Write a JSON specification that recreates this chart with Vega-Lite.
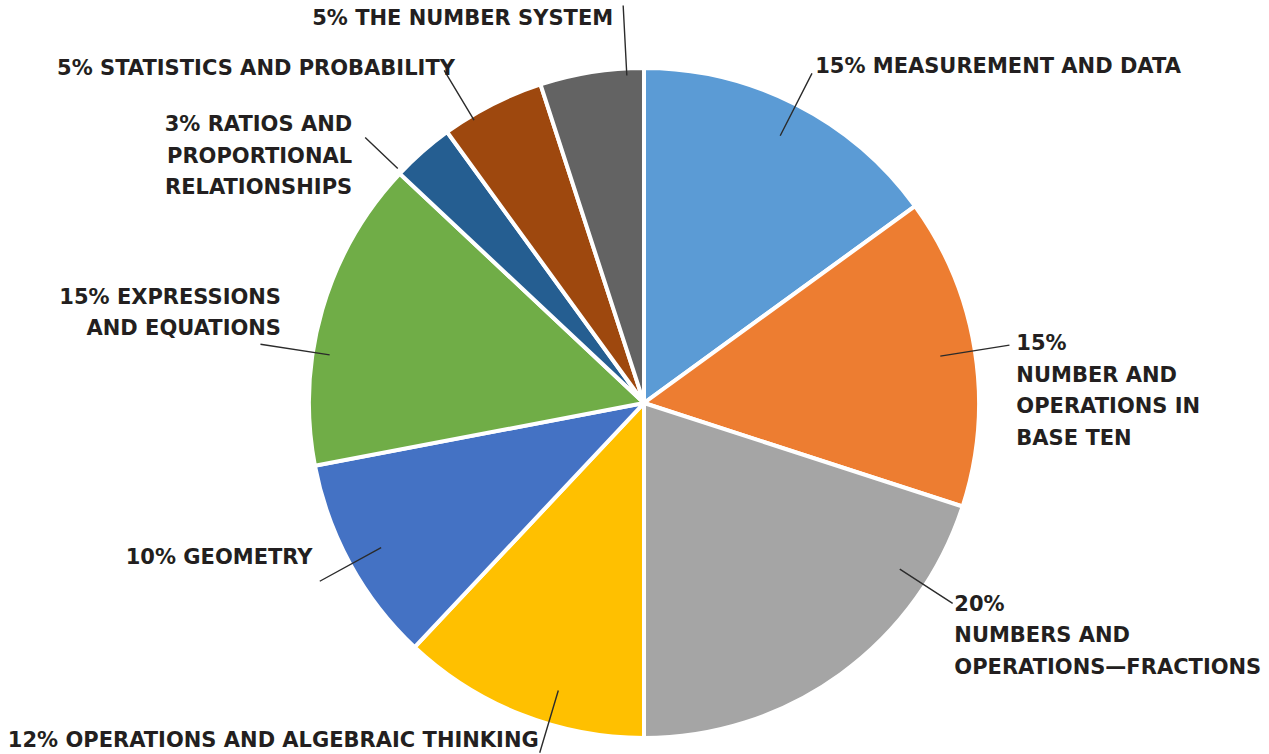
{
  "$schema": "https://vega.github.io/schema/vega-lite/v6.json",
  "width": 670,
  "height": 670,
  "autosize": {"type": "none"},
  "padding": {"left": 309, "top": 68, "right": 290, "bottom": 16},
  "background": "white",
  "config": {"view": {"stroke": null}, "text": {"font": "DejaVu Sans", "fontWeight": "bold", "fontSize": 21, "fill": "#231f20", "lineHeight": 31.5, "baseline": "middle", "lineBreak": "\n"}},
  "resolve": {"scale": {"theta": "independent"}},
  "data": {
    "values": [
      {"k": 1, "name": "Measurement and Data", "value": 15, "label": "15% MEASUREMENT AND DATA"},
      {"k": 2, "name": "Number and Operations in Base Ten", "value": 15, "label": "15%\nNUMBER AND\nOPERATIONS IN\nBASE TEN"},
      {"k": 3, "name": "Numbers and Operations—Fractions", "value": 20, "label": "20%\nNUMBERS AND\nOPERATIONS—FRACTIONS"},
      {"k": 4, "name": "Operations and Algebraic Thinking", "value": 12, "label": "12% OPERATIONS AND ALGEBRAIC THINKING"},
      {"k": 5, "name": "Geometry", "value": 10, "label": "10% GEOMETRY"},
      {"k": 6, "name": "Expressions and Equations", "value": 15, "label": "15% EXPRESSIONS\nAND EQUATIONS"},
      {"k": 7, "name": "Ratios and Proportional Relationships", "value": 3, "label": "3% RATIOS AND\nPROPORTIONAL\nRELATIONSHIPS"},
      {"k": 8, "name": "Statistics and Probability", "value": 5, "label": "5%  STATISTICS AND PROBABILITY"},
      {"k": 9, "name": "The Number System", "value": 5, "label": "5% THE NUMBER SYSTEM"}
    ]
  },
  "transform": [
    {"window": [{"op": "sum", "field": "value", "as": "cum"}], "sort": [{"field": "k"}], "frame": [null, 0]},
    {"calculate": "datum.cum - datum.value / 2", "as": "mid"}
  ],
  "layer": [
    {
      "mark": {"type": "arc", "stroke": "white", "strokeWidth": 4, "outerRadius": 335},
      "encoding": {
        "theta": {"field": "value", "type": "quantitative", "stack": true, "scale": {"domain": [0, 100], "range": [0, 6.283185]}},
        "order": {"field": "k", "type": "quantitative"},
        "color": {
          "field": "name", "type": "nominal", "legend": null,
          "scale": {
            "domain": ["Measurement and Data", "Number and Operations in Base Ten", "Numbers and Operations—Fractions", "Operations and Algebraic Thinking", "Geometry", "Expressions and Equations", "Ratios and Proportional Relationships", "Statistics and Probability", "The Number System"],
            "range": ["#5B9BD5", "#ED7D31", "#A5A5A5", "#FFC000", "#4472C4", "#70AD47", "#255E91", "#9E480E", "#636363"]
          }
        }
      }
    },
    {
      "transform": [{"filter": "datum.k == 1 || datum.k == 2 || datum.k == 5"}],
      "mark": {"type": "arc", "radius": 370, "radius2": 300, "stroke": "#2b2b2b", "strokeWidth": 1.4, "fill": null},
      "encoding": {
        "theta": {"field": "mid", "type": "quantitative", "stack": false, "scale": {"domain": [0, 100], "range": [0, 6.283185]}},
        "theta2": {"field": "mid"}
      }
    },
    {
      "transform": [{"filter": "datum.k == 4"}],
      "mark": {"type": "arc", "radius": 365, "radius2": 300, "stroke": "#2b2b2b", "strokeWidth": 1.4, "fill": null},
      "encoding": {
        "theta": {"field": "mid", "type": "quantitative", "stack": false, "scale": {"domain": [0, 100], "range": [-0.0873, 6.1959]}},
        "theta2": {"field": "mid"}
      }
    },
    {
      "transform": [{"filter": "datum.k == 3"}],
      "mark": {"type": "arc", "radius": 368, "radius2": 305, "stroke": "#2b2b2b", "strokeWidth": 1.4, "fill": null},
      "encoding": {
        "theta": {"field": "mid", "type": "quantitative", "stack": false, "scale": {"domain": [0, 100], "range": [-0.3665, 5.9167]}},
        "theta2": {"field": "mid"}
      }
    },
    {
      "transform": [{"filter": "datum.k == 6"}],
      "mark": {"type": "arc", "radius": 388, "radius2": 318, "stroke": "#2b2b2b", "strokeWidth": 1.4, "fill": null},
      "encoding": {
        "theta": {"field": "mid", "type": "quantitative", "stack": false, "scale": {"domain": [0, 100], "range": [-0.1309, 6.1523]}},
        "theta2": {"field": "mid"}
      }
    },
    {
      "transform": [{"filter": "datum.k == 7"}],
      "mark": {"type": "arc", "radius": 385, "radius2": 340, "stroke": "#2b2b2b", "strokeWidth": 1.4, "fill": null},
      "encoding": {
        "theta": {"field": "mid", "type": "quantitative", "stack": false, "scale": {"domain": [0, 100], "range": [-0.0873, 6.1959]}},
        "theta2": {"field": "mid"}
      }
    },
    {
      "transform": [{"filter": "datum.k == 8"}],
      "mark": {"type": "arc", "radius": 388, "radius2": 330, "stroke": "#2b2b2b", "strokeWidth": 1.4, "fill": null},
      "encoding": {
        "theta": {"field": "mid", "type": "quantitative", "stack": false, "scale": {"domain": [0, 100], "range": [-0.0698, 6.2134]}},
        "theta2": {"field": "mid"}
      }
    },
    {
      "transform": [{"filter": "datum.k == 9"}],
      "mark": {"type": "arc", "radius": 398, "radius2": 328, "stroke": "#2b2b2b", "strokeWidth": 1.4, "fill": null},
      "encoding": {
        "theta": {"field": "mid", "type": "quantitative", "stack": false, "scale": {"domain": [0, 100], "range": [0.1047, 6.3879]}},
        "theta2": {"field": "mid"}
      }
    },
    {
      "transform": [{"filter": "datum.k <= 2"}],
      "mark": {"type": "text", "radius": 377, "align": "left"},
      "encoding": {
        "theta": {"field": "mid", "type": "quantitative", "stack": false, "scale": {"domain": [0, 100], "range": [0, 6.283185]}},
        "text": {"field": "label"}
      }
    },
    {
      "transform": [{"filter": "datum.k == 3"}],
      "mark": {"type": "text", "radius": 370, "align": "left"},
      "encoding": {
        "theta": {"field": "mid", "type": "quantitative", "stack": false, "scale": {"domain": [0, 100], "range": [-0.3665, 5.9167]}},
        "text": {"field": "label"}
      }
    },
    {
      "transform": [{"filter": "datum.k == 4"}],
      "mark": {"type": "text", "radius": 360, "align": "right", "baseline": "alphabetic"},
      "encoding": {
        "theta": {"field": "mid", "type": "quantitative", "stack": false, "scale": {"domain": [0, 100], "range": [-0.0803, 6.2029]}},
        "text": {"field": "label"}
      }
    },
    {
      "transform": [{"filter": "datum.k == 5"}],
      "mark": {"type": "text", "radius": 366, "align": "right"},
      "encoding": {
        "theta": {"field": "mid", "type": "quantitative", "stack": false, "scale": {"domain": [0, 100], "range": [0.0646, 6.3478]}},
        "text": {"field": "label"}
      }
    },
    {
      "transform": [{"filter": "datum.k == 6"}],
      "mark": {"type": "text", "radius": 378, "align": "right"},
      "encoding": {
        "theta": {"field": "mid", "type": "quantitative", "stack": false, "scale": {"domain": [0, 100], "range": [0, 6.283185]}},
        "text": {"field": "label"}
      }
    },
    {
      "transform": [{"filter": "datum.k == 7"}],
      "mark": {"type": "text", "radius": 403, "align": "right"},
      "encoding": {
        "theta": {"field": "mid", "type": "quantitative", "stack": false, "scale": {"domain": [0, 100], "range": [-0.0873, 6.1959]}},
        "text": {"field": "label"}
      }
    },
    {
      "transform": [{"filter": "datum.k == 8"}],
      "mark": {"type": "text", "radius": 384, "align": "right"},
      "encoding": {
        "theta": {"field": "mid", "type": "quantitative", "stack": false, "scale": {"domain": [0, 100], "range": [-0.0436, 6.2396]}},
        "text": {"field": "label"}
      }
    },
    {
      "transform": [{"filter": "datum.k == 9"}],
      "mark": {"type": "text", "radius": 385, "align": "right"},
      "encoding": {
        "theta": {"field": "mid", "type": "quantitative", "stack": false, "scale": {"domain": [0, 100], "range": [0.0768, 6.36]}},
        "text": {"field": "label"}
      }
    }
  ]
}
